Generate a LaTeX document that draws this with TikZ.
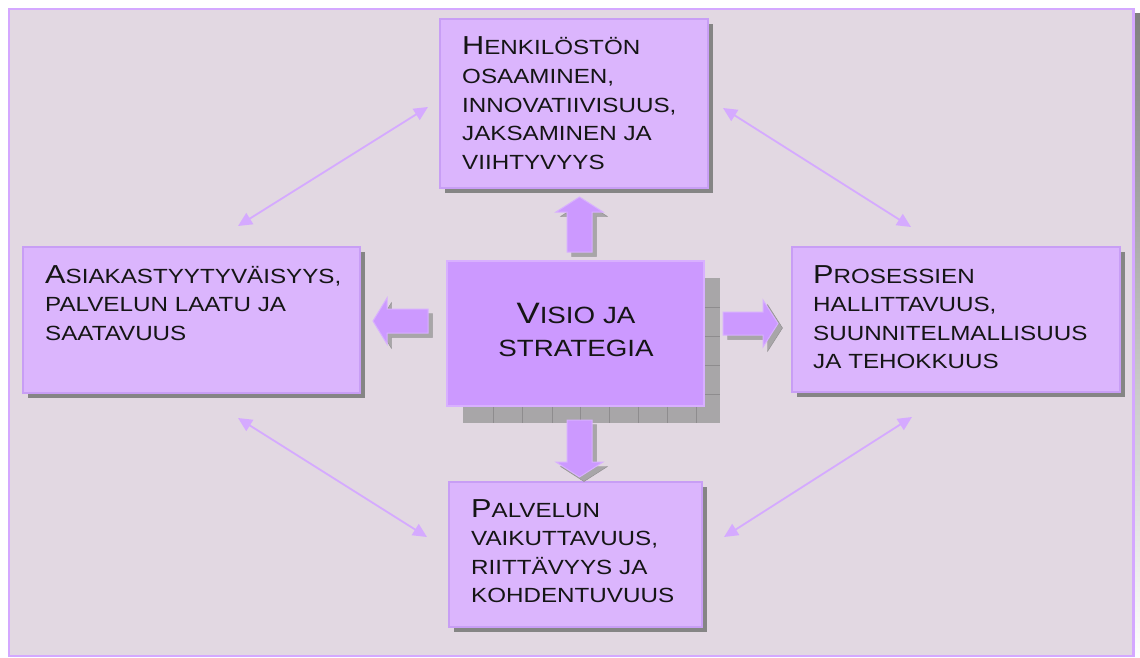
\documentclass[tikz,border=0pt]{standalone}
\usepackage{fontspec}
\newfontfamily\cpfont[FakeStretch=1.18]{Liberation Sans}
\usetikzlibrary{arrows.meta,shadows}

\definecolor{bg}{HTML}{E2D8E2}
\definecolor{frameline}{HTML}{D4A8FF}
\definecolor{boxfill}{HTML}{DBB5FD}
\definecolor{boxline}{HTML}{C89EF5}
\definecolor{corefill}{HTML}{CC99FF}
\definecolor{coreline}{HTML}{D8B0FF}
\definecolor{shade}{HTML}{858585}
\definecolor{texture}{HTML}{A8A6A8}
\definecolor{textureline}{HTML}{8E8C8E}
\definecolor{linkcol}{HTML}{D5AAFF}
\definecolor{ink}{HTML}{151515}

% small-caps style lettering: large initial, smaller capitals after it
\newcommand\boxfont{\cpfont\fontsize{20.5}{28.6}\selectfont}
\newcommand\corefont{\cpfont\fontsize{23.5}{33}\selectfont}
\newcommand\ini[1]{{\fontsize{26}{28.6}\selectfont #1}}
\newcommand\coreini[1]{{\fontsize{29.5}{33}\selectfont #1}}

\tikzset{
  box/.style={rectangle, fill=boxfill, draw=boxline, line width=1.2pt,
    inner sep=0pt, drop shadow={shadow xshift=5pt, shadow yshift=-5pt,
    fill=shade, opacity=1}},
  boxtext/.style={anchor=base west, inner sep=0pt, text width=320pt,
    align=left, font=\boxfont, text=ink},
  blockarrow/.style={fill=corefill, draw=coreline, line width=1pt, line join=miter},
  blockshade/.style={fill=texture, draw=textureline, line width=0.4pt},
  link/.style={draw=linkcol, line width=1.8pt,
    {Triangle[length=14pt,width=13pt]}-{Triangle[length=14pt,width=13pt]}}
}

\begin{document}
\begin{tikzpicture}[x=1pt,y=-1pt]
\useasboundingbox (0,0) rectangle (1140,658);
\fill[white] (0,0) rectangle (1140,658);

% outer panel with its shadow
\fill[shade] (14,14) rectangle (1140,660);
\filldraw[fill=bg, draw=frameline, line width=2.4pt] (9,9) rectangle (1133.5,656);

% textured shadow behind the central box
\fill[texture] (463,278) rectangle (720,423);
\foreach \xx in {493,522,552,580,609,638,667,696}
  \draw[textureline, line width=0.6pt] (\xx,406) -- (\xx,423);
\foreach \yy in {307,336,365,394}
  \draw[textureline, line width=0.6pt] (704,\yy) -- (720,\yy);

% boxes
\node[box, minimum width=268pt, minimum height=169pt] (staff) at (574,103.5) {};
\node[box, minimum width=337pt, minimum height=146pt] (client) at (191.5,320) {};
\node[box, minimum width=328pt, minimum height=145pt] (process) at (956,319.5) {};
\node[box, minimum width=253pt, minimum height=145pt] (service) at (575.5,554.5) {};
\node[rectangle, fill=corefill, draw=coreline, line width=1.2pt, inner sep=0pt,
      minimum width=257pt, minimum height=145pt] (core) at (575.5,333.5) {};

% box texts
\node[boxtext] (staffT) at (462,55)
  {\ini{H}ENKILÖSTÖN\\OSAAMINEN,\\INNOVATIIVISUUS,\\JAKSAMINEN JA\\VIIHTYVYYS};
\node[boxtext] (clientT) at (45,283)
  {\ini{A}SIAKASTYYTYVÄISYYS,\\PALVELUN LAATU JA\\SAATAVUUS};
\node[boxtext] (processT) at (813,283)
  {\ini{P}ROSESSIEN\\HALLITTAVUUS,\\SUUNNITELMALLISUUS\\JA TEHOKKUUS};
\node[boxtext] (serviceT) at (471,517)
  {\ini{P}ALVELUN\\VAIKUTTAVUUS,\\RIITTÄVYYS JA\\KOHDENTUVUUS};
\node[anchor=base, inner sep=0pt, text width=250pt, align=center,
      font=\corefont, text=ink] (coreT) at (576,323)
  {\coreini{V}ISIO JA\\STRATEGIA};

% block arrows from the core outwards (shadow first)
\begin{scope}[shift={(4.5,4.5)}]
  \path[blockshade] (567,252) -- (567,212) -- (556,212) -- (579.5,197) -- (603,212) -- (592,212) -- (592,252) -- cycle;
  \path[blockshade] (428,309) -- (387,309) -- (387,298) -- (373,321) -- (387,344) -- (387,333) -- (428,333) -- cycle;
  \path[blockshade] (723,312) -- (763,312) -- (763,300) -- (778,323.5) -- (763,347) -- (763,335) -- (723,335) -- cycle;
  \path[blockshade] (567,420) -- (592,420) -- (592,462) -- (603,462) -- (579.5,477) -- (556,462) -- (567,462) -- cycle;
\end{scope}
\path[blockarrow] (567,252) -- (567,212) -- (556,212) -- (579.5,197) -- (603,212) -- (592,212) -- (592,252) -- cycle;
\path[blockarrow] (428,309) -- (387,309) -- (387,298) -- (373,321) -- (387,344) -- (387,333) -- (428,333) -- cycle;
\path[blockarrow] (723,312) -- (763,312) -- (763,300) -- (778,323.5) -- (763,347) -- (763,335) -- (723,335) -- cycle;
\path[blockarrow] (567,420) -- (592,420) -- (592,462) -- (603,462) -- (579.5,477) -- (556,462) -- (567,462) -- cycle;

% two-way links between neighbouring boxes
\coordinate (tlA) at (238,226);  \coordinate (tlB) at (428,107);
\coordinate (trA) at (723,108);  \coordinate (trB) at (911,227);
\coordinate (blA) at (238,418);  \coordinate (blB) at (427,537);
\coordinate (brA) at (912,417);  \coordinate (brB) at (724,537);
\draw[link] (tlA) -- (tlB);
\draw[link] (trA) -- (trB);
\draw[link] (blA) -- (blB);
\draw[link] (brA) -- (brB);
\end{tikzpicture}
\end{document}
